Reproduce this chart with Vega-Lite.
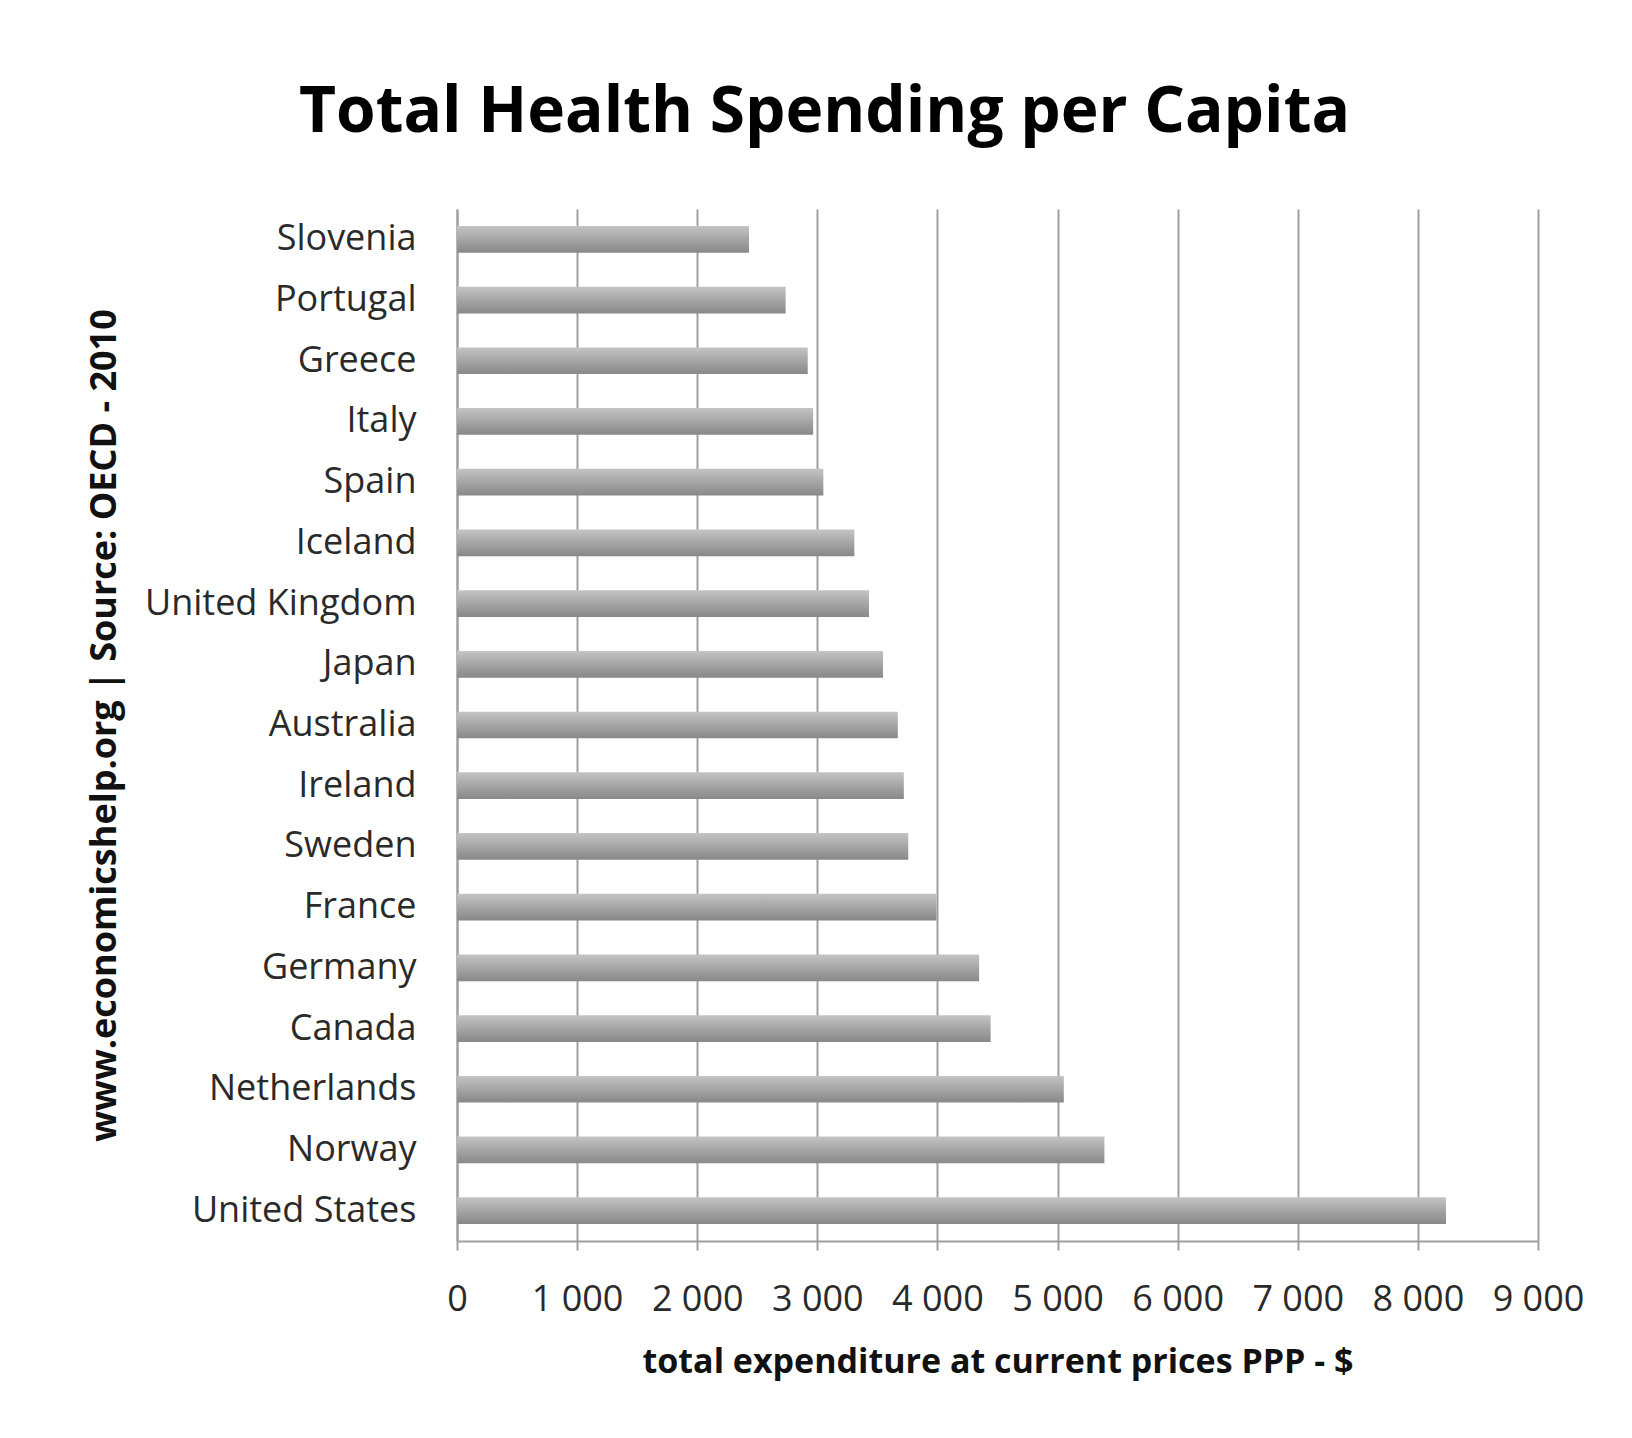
{
  "$schema": "https://vega.github.io/schema/vega-lite/v6.json",
  "width": 1081,
  "height": 1032,
  "autosize": {"type": "none"},
  "padding": {"left": 457, "top": 209, "right": 94, "bottom": 197},
  "background": "white",
  "title": {
    "text": "Total Health Spending per Capita",
    "font": "Open Sans",
    "fontSize": 64,
    "fontWeight": "bold",
    "color": "#000000",
    "anchor": "middle",
    "dx": -173,
    "offset": 13,
    "baseline": "alphabetic"
  },
  "data": {
    "values": [
      {"country": "Slovenia", "value": 2431},
      {"country": "Portugal", "value": 2736},
      {"country": "Greece", "value": 2920},
      {"country": "Italy", "value": 2965},
      {"country": "Spain", "value": 3050},
      {"country": "Iceland", "value": 3308},
      {"country": "United Kingdom", "value": 3430},
      {"country": "Japan", "value": 3547},
      {"country": "Australia", "value": 3670},
      {"country": "Ireland", "value": 3720},
      {"country": "Sweden", "value": 3757},
      {"country": "France", "value": 3992},
      {"country": "Germany", "value": 4347},
      {"country": "Canada", "value": 4443},
      {"country": "Netherlands", "value": 5052},
      {"country": "Norway", "value": 5390},
      {"country": "United States", "value": 8234}
    ]
  },
  "mark": {
    "type": "bar",
    "color": {
      "gradient": "linear",
      "x1": 0, "y1": 0, "x2": 0, "y2": 1,
      "stops": [
        {"offset": 0, "color": "#c4c4c4"},
        {"offset": 0.5, "color": "#a5a5a5"},
        {"offset": 1, "color": "#888888"}
      ]
    }
  },
  "encoding": {
    "y": {
      "field": "country",
      "type": "nominal",
      "sort": null,
      "scale": {"paddingInner": 0.56, "paddingOuter": 0.28},
      "axis": {
        "title": "www.economicshelp.org | Source: OECD - 2010",
        "titleFont": "Open Sans",
        "titleFontSize": 36,
        "titleFontWeight": "bold",
        "titleColor": "#111111",
        "titleAngle": -90,
        "titleAlign": "center",
        "titleBaseline": "middle",
        "titleX": -353,
        "titleY": 516,
        "labelFont": "Open Sans",
        "labelFontSize": 36,
        "labelColor": "#2a2a2a",
        "labelPadding": 41,
        "labelLimit": 500,
        "ticks": false,
        "grid": false,
        "domain": true,
        "domainColor": "#a0a0a0",
        "domainWidth": 2
      }
    },
    "x": {
      "field": "value",
      "type": "quantitative",
      "scale": {"domain": [0, 9000], "nice": false},
      "axis": {
        "values": [0, 1000, 2000, 3000, 4000, 5000, 6000, 7000, 8000, 9000],
        "labelExpr": "replace(format(datum.value, ','), ',', ' ')",
        "title": "total expenditure at current prices PPP - $",
        "titleFont": "Open Sans",
        "titleFontSize": 34,
        "titleFontWeight": "bold",
        "titleColor": "#111111",
        "titlePadding": 28,
        "labelFont": "Open Sans",
        "labelFontSize": 36,
        "labelColor": "#2a2a2a",
        "labelPadding": 32,
        "labelFlush": false,
        "labelOverlap": false,
        "grid": true,
        "gridColor": "#a0a0a0",
        "gridWidth": 2,
        "domainColor": "#a0a0a0",
        "domainWidth": 2,
        "tickColor": "#a0a0a0",
        "tickWidth": 2,
        "tickSize": 9
      }
    }
  },
  "config": {"view": {"stroke": null}}
}
